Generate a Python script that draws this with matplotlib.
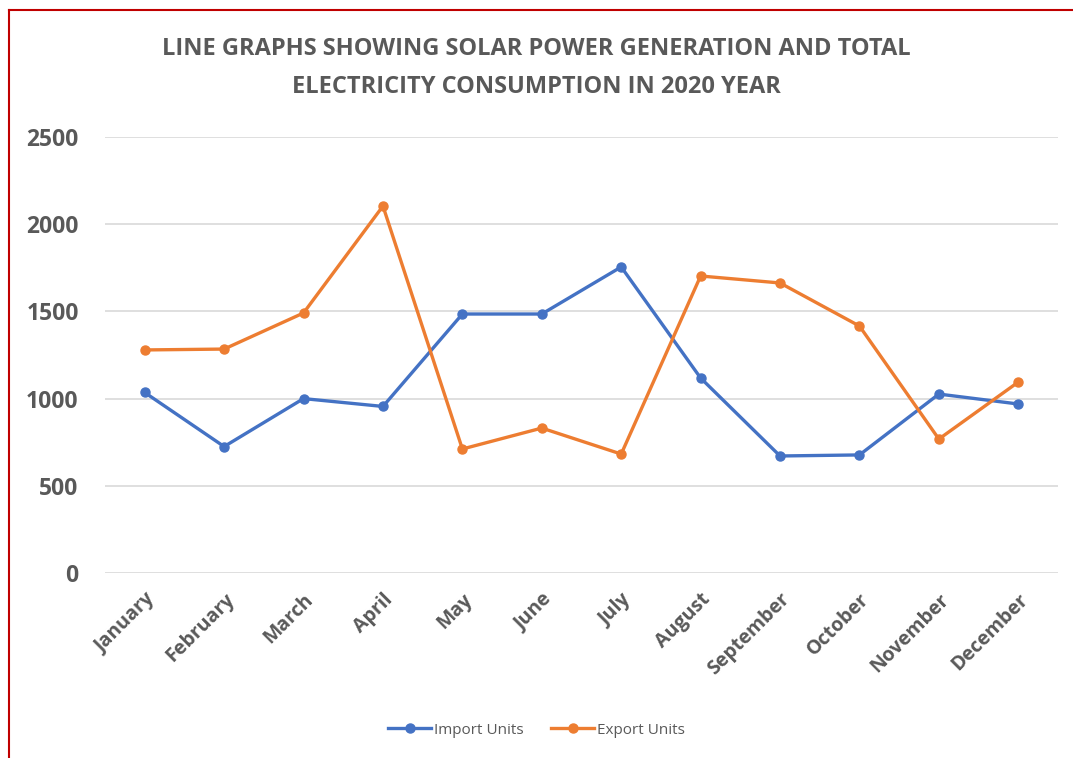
import matplotlib
matplotlib.use("Agg")
import matplotlib.pyplot as plt
from matplotlib.lines import Line2D

months = ["January", "February", "March", "April", "May", "June", "July",
          "August", "September", "October", "November", "December"]
import_units = [1035, 725, 1000, 955, 1485, 1485, 1755, 1118, 671, 677, 1026, 969]
export_units = [1279, 1284, 1491, 2104, 711, 831, 682, 1703, 1663, 1416, 768, 1095]
yticks = [0, 500, 1000, 1500, 2000, 2500]

plt.rcParams['font.family'] = ['Open Sans', 'DejaVu Sans']
gray = '#595959'

fig = plt.figure(figsize=(10.73, 7.58), dpi=100)
ax = fig.add_axes([105/1073, 1-573/758, (1058-105)/1073, (573-137)/758])

x = list(range(len(months)))
ax.plot(x, import_units, color='#4472C4', lw=2.4, marker='o', ms=6.5, label='Import Units')
ax.plot(x, export_units, color='#ED7D31', lw=2.4, marker='o', ms=6.5, label='Export Units')

ax.set_xlim(-0.5, len(months) - 0.5)
ax.set_ylim(0, 2500)
ax.set_yticks(yticks)
ax.set_yticklabels([str(v) for v in yticks], fontsize=16.5, fontweight='bold', color=gray)
ax.set_xticks(x)
ax.set_xticklabels(months, rotation=45, ha='right', rotation_mode='anchor',
                   fontsize=14, fontweight='bold', color=gray)
ax.tick_params(axis='both', length=0)
ax.tick_params(axis='y', pad=19)
ax.tick_params(axis='x', pad=12)
ax.grid(axis='y', color='#d9d9d9', lw=1.2)
ax.set_axisbelow(True)
for s in ax.spines.values():
    s.set_visible(False)

fig.text(0.5, 1-68/758, "LINE GRAPHS SHOWING SOLAR POWER GENERATION AND TOTAL\nELECTRICITY CONSUMPTION IN 2020 YEAR",
         ha='center', va='center', fontsize=17, fontweight='bold', color=gray, linespacing=1.75)

leg = fig.legend(loc='center', bbox_to_anchor=(0.5, 1-730/758), ncol=2, frameon=False,
                 fontsize=11, labelcolor=gray, handlelength=2.8, columnspacing=1.8, handletextpad=0.2)

# red border (left and top)
fig.add_artist(Line2D([9/1073, 9/1073], [0, 1-10/758], color='#C00000', lw=1.5, transform=fig.transFigure))
fig.add_artist(Line2D([9/1073, 1], [1-10/758, 1-10/758], color='#C00000', lw=1.5, transform=fig.transFigure))

fig.savefig("out.png", dpi=100)
